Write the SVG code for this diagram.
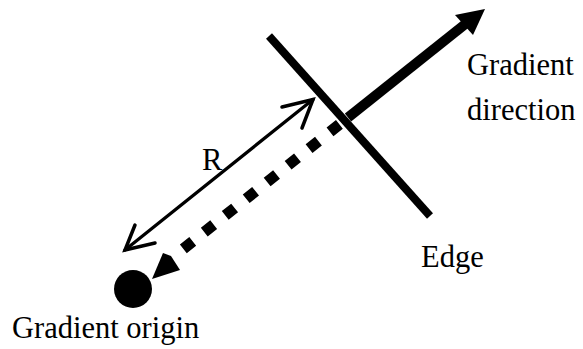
<svg xmlns="http://www.w3.org/2000/svg" width="583" height="349" viewBox="0 0 583 349">
<style>
text{font-family:"Liberation Serif","Times New Roman",serif;font-size:30.5px;fill:#000}
.thin{stroke:#000;stroke-width:3.3;fill:none;stroke-linecap:round}
.head{stroke:#000;stroke-width:3.5;fill:none;stroke-linecap:round;stroke-linejoin:miter}
</style>
<rect width="583" height="349" fill="#fff"/>
<g id="edge">
<line x1="269" y1="36" x2="430" y2="216" stroke="#000" stroke-width="8"/>
<text x="421" y="267">Edge</text>
</g>
<g id="origin">
<circle cx="133" cy="289" r="19" fill="#000"/>
<text x="12" y="338">Gradient origin</text>
</g>
<g id="direction">
<text x="467" y="75">Gradient</text>
<text x="467" y="120">direction</text>
</g>
<g id="connectors">
<line x1="348" y1="117.5" x2="467.7" y2="22.1" stroke="#000" stroke-width="10"/>
<polygon points="485,9 455,15 473,35" fill="#000"/>
<line x1="339.4" y1="124.4" x2="183" y2="249.1" stroke="#000" stroke-width="11" stroke-dasharray="12 14.8"/>
<polygon points="152,279 163,253 171,256 180,270" fill="#000"/>
<line class="thin" x1="313" y1="99.5" x2="125" y2="250"/>
<polyline class="head" points="282,107 313,99.5 302,128"/>
<polyline class="head" points="135,225 125,250 155,243"/>
<text x="202" y="170">R</text>
</g>
</svg>
